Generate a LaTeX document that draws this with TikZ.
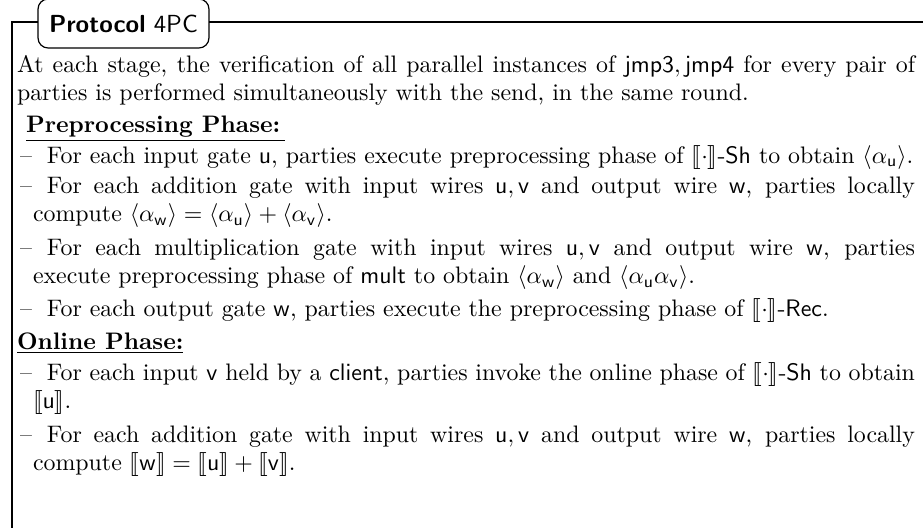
\documentclass[tikz,border=0pt]{standalone}
\usepackage{amsmath,amssymb}
\usepackage{stmaryrd}
\usepackage{graphicx}
\newcommand{\shr}[1]{\llbracket #1\rrbracket}
\newcommand{\sv}[1]{\mathsf{#1}}
\begin{document}
\begin{tikzpicture}[x=0.4189pt,y=-0.4189pt,
  para/.style={inner sep=0pt, outer sep=0pt, anchor=base west, align=justify, text width=376.2pt},
  itm/.style={inner sep=0pt, outer sep=0pt, anchor=base west, align=justify, text width=374.9pt},
  head/.style={inner sep=0pt, outer sep=0pt, anchor=base west},
  frameline/.style={line width=0.85pt, line cap=butt, line join=miter}]
\useasboundingbox (0,0) rectangle (923,527);
\coordinate (tl) at (12,22);
\coordinate (bl) at (12,535);
\coordinate (tr) at (930,22);
\draw[frameline] (bl) -- (tl) -- (tr);
\node[draw, fill=white, rounded corners=4.2pt, line width=0.5pt, minimum width=71.6pt, minimum height=20.5pt, inner sep=0pt] (title) at (123.5,23.5) {\scalebox{1.035}{\textsf{\textbf{Protocol} 4PC}}};
\newcommand{\hi}{\hangindent=5.45pt\hangafter=1 --\hspace{6.3pt}}
\node[para] (p1) at (17,72) {At each stage, the verification of all parallel instances of $\sv{jmp3},\sv{jmp4}$ for every pair of\linebreak parties is performed simultaneously with the send, in the same round.\par};
\node[head] (h1) at (26,132) {\underline{\textbf{Preprocessing Phase:}\hspace{2pt}}};
\node[itm] (i1) at (20,163) {\hi For each input gate $\sv{u}$, parties execute preprocessing phase of $\shr{\cdot}$-$\sv{Sh}$ to obtain $\langle\alpha_{\sv{u}}\rangle$.\par};
\node[itm] (i2) at (20,193) {\hi For each addition gate with input wires $\sv{u},\sv{v}$ and output wire $\sv{w}$, parties locally\linebreak compute $\langle\alpha_{\sv{w}}\rangle = \langle\alpha_{\sv{u}}\rangle + \langle\alpha_{\sv{v}}\rangle$.\par};
\node[itm] (i3) at (20,255) {\hi For each multiplication gate with input wires $\sv{u},\sv{v}$ and output wire $\sv{w}$, parties\linebreak execute preprocessing phase of $\sv{mult}$ to obtain $\langle\alpha_{\sv{w}}\rangle$ and $\langle\alpha_{\sv{u}}\alpha_{\sv{v}}\rangle$.\par};
\node[itm] (i4) at (20,316) {\hi For each output gate $\sv{w}$, parties execute the preprocessing phase of $\shr{\cdot}$-$\sv{Rec}$.\par};
\node[head] (h2) at (17,349) {\underline{\textbf{Online Phase:}}};
\node[itm] (o1) at (20,380) {\hi For each input $\sv{v}$ held by a $\sv{client}$, parties invoke the online phase of $\shr{\cdot}$-$\sv{Sh}$ to obtain\linebreak $\shr{\sv{u}}$.\par};
\node[itm] (o2) at (20,442) {\hi For each addition gate with input wires $\sv{u},\sv{v}$ and output wire $\sv{w}$, parties locally\linebreak compute $\shr{\sv{w}} = \shr{\sv{u}} + \shr{\sv{v}}$.\par};
\end{tikzpicture}
\end{document}
